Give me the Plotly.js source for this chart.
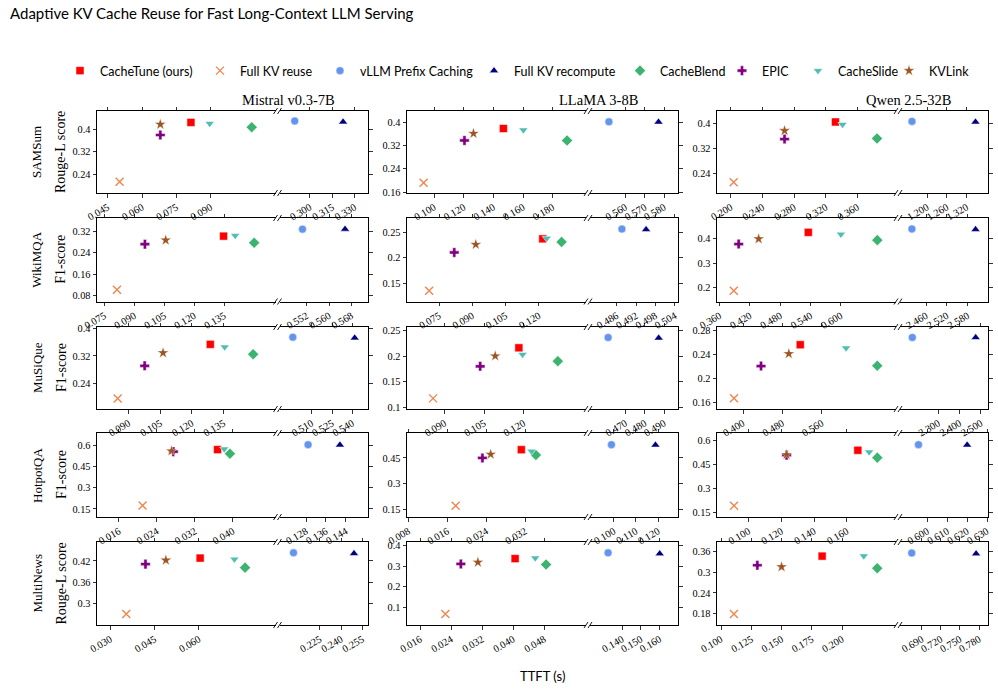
<!DOCTYPE html>
<html><head><meta charset="utf-8">
<script src="https://cdn.plot.ly/plotly-3.0.1.min.js"></script>
<style>html,body{margin:0;padding:0;background:#fff}</style>
</head><body><div id="chart" style="width:998px;height:691px"></div>
<script>
// ---- categories ----
const datasets = ["SAMSum", "WikiMQA", "MuSiQue", "HotpotQA", "MultiNews"];
const metrics = ["Rouge-L score", "F1-score", "F1-score", "F1-score", "Rouge-L score"];
const models = ["Mistral v0.3-7B", "LLaMA 3-8B", "Qwen 2.5-32B"];
const methods = ["CacheTune (ours)", "Full KV reuse", "vLLM Prefix Caching", "Full KV recompute", "CacheBlend", "EPIC", "CacheSlide", "KVLink"];

// ---- values: 15 panels, row-major (dataset rows x model columns) ----
const ttftCacheTune = [0.0814, 0.1467, 0.3322, 0.1347, 0.1217, 0.5354, 0.1287, 0.1182, 0.516, 0.0368, 0.0312, 0.1667, 0.0604, 0.0405, 0.1835];
const scoreCacheTune = [0.425, 0.378, 0.405, 0.301, 0.237, 0.426, 0.354, 0.216, 0.256, 0.572, 0.498, 0.538, 0.428, 0.337, 0.347];
const ttftFullReuse = [0.0502, 0.0928, 0.2034, 0.0813, 0.0705, 0.388, 0.0848, 0.0856, 0.3818, 0.021, 0.0177, 0.0911, 0.0354, 0.0225, 0.1107];
const scoreFullReuse = [0.212, 0.192, 0.211, 0.101, 0.136, 0.186, 0.195, 0.1175, 0.167, 0.174, 0.173, 0.192, 0.270, 0.068, 0.179];
const ttftVllm = [0.2898, 0.5514, 1.154, 0.5505, 0.4876, 2.419, 0.4961, 0.461, 2.177, 0.1288, 0.0989, 0.5955, 0.2063, 0.1326, 0.6742];
const scoreVllm = [0.430, 0.401, 0.407, 0.327, 0.256, 0.440, 0.375, 0.236, 0.268, 0.607, 0.527, 0.573, 0.443, 0.365, 0.356];
const ttftRecompute = [0.3222, 0.5771, 1.347, 0.5657, 0.4951, 2.603, 0.5417, 0.4872, 2.475, 0.1416, 0.1188, 0.620, 0.2491, 0.160, 0.7753];
const scoreRecompute = [0.427, 0.400, 0.405, 0.327, 0.255, 0.438, 0.373, 0.235, 0.268, 0.605, 0.525, 0.571, 0.441, 0.361, 0.354];
const ttftCacheBlend = [0.108, 0.1897, 0.3848, 0.150, 0.1302, 0.672, 0.149, 0.133, 0.672, 0.0394, 0.0342, 0.1786, 0.0756, 0.0485, 0.229];
const scoreCacheBlend = [0.408, 0.337, 0.352, 0.276, 0.231, 0.394, 0.325, 0.190, 0.221, 0.543, 0.467, 0.492, 0.401, 0.308, 0.312];
const ttftEpic = [0.068, 0.1204, 0.2678, 0.0953, 0.0818, 0.3976, 0.0976, 0.1035, 0.4365, 0.0275, 0.0232, 0.1232, 0.0419, 0.0265, 0.130];
const scoreEpic = [0.380, 0.337, 0.350, 0.271, 0.2105, 0.378, 0.291, 0.180, 0.2205, 0.557, 0.450, 0.508, 0.411, 0.311, 0.3205];
const ttftCacheSlide = [0.0896, 0.1602, 0.3411, 0.1405, 0.1235, 0.600, 0.1355, 0.1196, 0.6088, 0.0382, 0.0333, 0.1736, 0.0720, 0.0457, 0.2179];
const scoreCacheSlide = [0.421, 0.373, 0.397, 0.303, 0.238, 0.418, 0.346, 0.203, 0.2505, 0.576, 0.489, 0.527, 0.425, 0.340, 0.3475];
const ttftKvlink = [0.068, 0.1265, 0.2678, 0.1057, 0.0915, 0.4371, 0.1063, 0.1092, 0.4928, 0.0271, 0.0249, 0.1232, 0.0488, 0.0309, 0.150];
const scoreKvlink = [0.418, 0.361, 0.377, 0.286, 0.226, 0.399, 0.329, 0.200, 0.241, 0.562, 0.471, 0.510, 0.422, 0.319, 0.3157];

// ---- tick labels per panel ----
const yTicks = [
  [0.24,0.32,0.4],[0.16,0.24,0.32,0.4],[0.24,0.32,0.4],
  [0.08,0.16,0.24,0.32],[0.15,0.2,0.25],[0.2,0.3,0.4],
  [0.24,0.32,0.4],[0.1,0.15,0.2,0.25],[0.16,0.2,0.24,0.28],
  [0.15,0.3,0.45,0.6],[0.15,0.3,0.45],[0.15,0.3,0.45,0.6],
  [0.3,0.36,0.42],[0.1,0.2,0.3,0.4],[0.18,0.24,0.3,0.36]];
const xTicksLeft = [
  [0.045,0.060,0.075,0.090],[0.100,0.120,0.140,0.160,0.180],[0.200,0.240,0.280,0.320,0.360],
  [0.075,0.090,0.105,0.120,0.135],[0.075,0.090,0.105,0.120],[0.360,0.420,0.480,0.540,0.600],
  [0.090,0.105,0.120,0.135],[0.090,0.105,0.120],[0.400,0.480,0.560],
  [0.016,0.024,0.032,0.040],[0.008,0.016,0.024,0.032],[0.100,0.120,0.140,0.160],
  [0.030,0.045,0.060],[0.016,0.024,0.032,0.040,0.048],[0.100,0.125,0.150,0.175,0.200]];
const xTicksRight = [
  [0.300,0.315,0.330],[0.560,0.570,0.580],[1.200,1.260,1.320],
  [0.552,0.560,0.568],[0.486,0.492,0.498,0.504],[2.460,2.520,2.580],
  [0.510,0.525,0.540],[0.470,0.480,0.490],[2.300,2.400,2.500],
  [0.128,0.136,0.144],[0.100,0.110,0.120],[0.600,0.610,0.620,0.630],
  [0.225,0.240,0.255],[0.140,0.150,0.160],[0.690,0.720,0.750,0.780]];

// ---- axis ranges (layout) ----
const xRangeLeft = [[0.0403,0.1184],[0.0816,0.2025],[0.1823,0.4088],[0.0713,0.1607],[0.0605,0.1412],[0.3547,0.709],[0.075,0.1596],[0.0757,0.1437],[0.3473,0.710],[0.0114,0.049],[0.0077,0.0445],[0.0807,0.190],[0.0255,0.0859],[0.0126,0.0588],[0.0967,0.2445]];
const xRangeRight = [[0.2796,0.3389],[0.5416,0.5872],[1.1176,1.385],[0.5423,0.5739],[0.4777,0.505],[2.3845,2.639],[0.4863,0.5515],[0.4516,0.4972],[2.119,2.533],[0.1173,0.1529],[0.0892,0.129],[0.5862,0.6305],[0.1964,0.259],[0.123,0.1697],[0.6558,0.794]];
const yRange = [[0.172,0.466],[0.157,0.438],[0.176,0.4405],[0.0576,0.3685],[0.115,0.2776],[0.1417,0.485],[0.164,0.405],[0.0968,0.2565],[0.149,0.2855],[0.093,0.69],[0.107,0.595],[0.121,0.646],[0.239,0.4734],[0.0145,0.4177],[0.147,0.388]];

const seriesX = [ttftCacheTune, ttftFullReuse, ttftVllm, ttftRecompute, ttftCacheBlend, ttftEpic, ttftCacheSlide, ttftKvlink];
const seriesY = [scoreCacheTune, scoreFullReuse, scoreVllm, scoreRecompute, scoreCacheBlend, scoreEpic, scoreCacheSlide, scoreKvlink];

const styles = [
  {symbol:'square', color:'#FF0000', size:8, line:{color:'#ffffff', width:0.5}},
  {symbol:'x-thin-open', color:'#EE8650', size:8, line:{color:'#EE8650', width:1.4}},
  {symbol:'circle', color:'#6495ED', size:8, line:{color:'#ffffff', width:0.5}},
  {symbol:'triangle-up', color:'#000080', size:8, line:{color:'#ffffff', width:0.5}},
  {symbol:'diamond', color:'#3CB371', size:8.5, line:{color:'#ffffff', width:0.5}},
  {symbol:'cross', color:'#800080', size:8, line:{color:'#ffffff', width:0.5}},
  {symbol:'triangle-down', color:'#4FBDB0', size:8, line:{color:'#ffffff', width:0.5}},
  {symbol:'star', color:'#9B5523', size:8.5, line:{color:'#ffffff', width:0.4}}
];

// ---- geometry (pixels) ----
const W = 998, H = 691;
const colPx = [[97,275.5,279.5,368],[407,586,590,678],[717,896,900,988]];
const rowPx = [[111,193],[218,301.5],[327,409],[433,517],[542,625]];
const legendPx = [60, 200, 320, 474, 620, 722, 798, 889];
const px = v => v / W, py = v => 1 - v / H;

const SERIF = 'Liberation Serif, Times New Roman, serif';
const SANS = 'Lato, Open Sans, sans-serif';
const fmt3 = v => v.toFixed(3);
const fmtY = v => String(parseFloat(v.toFixed(3)));

const traces = [];
const layout = {
  width: W, height: H, margin:{l:0,r:0,t:0,b:0},
  paper_bgcolor:'#fff', plot_bgcolor:'#fff',
  title:{text:'Adaptive KV Cache Reuse for Fast Long-Context LLM Serving', x:px(10), xanchor:'left', y:py(14), yanchor:'middle', font:{family:SANS, size:15, color:'#000'}},
  showlegend:true,
  annotations:[], shapes:[]
};
methods.forEach((mname, m) => {
  layout['legend' + (m===0?'':(m+1))] = {orientation:'h', x:px(legendPx[m]), xanchor:'left', y:py(71), yanchor:'middle',
    font:{family:SANS, size:12.5, color:'#000'}, bgcolor:'rgba(0,0,0,0)', itemwidth:30, borderwidth:0};
});

const axBase = {showgrid:false, zeroline:false, showline:true, linecolor:'#000', linewidth:1,
  ticks:'outside', ticklen:3.5, tickwidth:0.8, tickcolor:'#000',
  tickfont:{family:SERIF, size:10.3, color:'#000'}};

for (let r = 0; r < 5; r++) {
  for (let c = 0; c < 3; c++) {
    const p = r*3 + c;
    const nL = 2*p + 1, nR = 2*p + 2;
    const xn = n => 'x' + (n===1?'':n), yn = n => 'y' + (n===1?'':n);
    const xk = n => 'xaxis' + (n===1?'':n), yk = n => 'yaxis' + (n===1?'':n);
    const ydom = [py(rowPx[r][1]), py(rowPx[r][0])];
    layout[xk(nL)] = Object.assign({}, axBase, {domain:[px(colPx[c][0]), px(colPx[c][1])], range:xRangeLeft[p], anchor:yn(nL),
      tickvals:xTicksLeft[p], ticktext:xTicksLeft[p].map(fmt3), tickangle:-30, mirror:'ticks'});
    layout[yk(nL)] = Object.assign({}, axBase, {domain:ydom, range:yRange[p], anchor:xn(nL),
      tickvals:yTicks[p], ticktext:yTicks[p].map(fmtY), mirror:false});
    layout[xk(nR)] = Object.assign({}, axBase, {domain:[px(colPx[c][2]), px(colPx[c][3])], range:xRangeRight[p], anchor:yn(nR),
      tickvals:xTicksRight[p], ticktext:xTicksRight[p].map(fmt3), tickangle:-30, mirror:'ticks'});
    layout[yk(nR)] = Object.assign({}, axBase, {domain:ydom, range:yRange[p], anchor:xn(nR), side:'right',
      tickvals:yTicks[p], showticklabels:false, mirror:false});

    for (let m = 0; m < methods.length; m++) {
      const xv = seriesX[m][p], yv = seriesY[m][p];
      const right = xv > xRangeLeft[p][1];
      traces.push({type:'scatter', mode:'markers', x:[xv], y:[yv],
        xaxis: xn(right?nR:nL), yaxis: yn(right?nR:nL),
        name: methods[m], legendgroup: methods[m], legend: 'legend' + (m===0?'':(m+1)), showlegend: p===0,
        marker: styles[m], cliponaxis:false, hoverinfo:'skip'});
    }

    // break marks
    [colPx[c][1], colPx[c][2]].forEach(xb => {
      rowPx[r].forEach(yb => {
        layout.shapes.push({type:'line', xref:'paper', yref:'paper',
          x0:px(xb-2), y0:py(yb+3), x1:px(xb+2), y1:py(yb-3), line:{color:'#000', width:0.9}});
      });
    });
  }
  const yc = (rowPx[r][0] + rowPx[r][1]) / 2;
  layout.annotations.push({text:datasets[r], xref:'paper', yref:'paper', x:px(37), y:py(yc), textangle:-90, showarrow:false, xanchor:'center', yanchor:'middle', font:{family:SERIF, size:13, color:'#000'}});
  layout.annotations.push({text:metrics[r], xref:'paper', yref:'paper', x:px(61), y:py(yc), textangle:-90, showarrow:false, xanchor:'center', yanchor:'middle', font:{family:SERIF, size:14, color:'#000'}});
}
const titleX = [288, 598, 908];
models.forEach((mname, c) => {
  layout.annotations.push({text:mname, xref:'paper', yref:'paper', x:px(titleX[c]), y:py(100), showarrow:false, xanchor:'center', yanchor:'middle', font:{family:SERIF, size:14.5, color:'#000'}});
});
layout.annotations.push({text:'TTFT (s)', xref:'paper', yref:'paper', x:px(542), y:py(676), showarrow:false, xanchor:'center', yanchor:'middle', font:{family:SANS, size:13, color:'#000'}});

Plotly.newPlot('chart', traces, layout, {displayModeBar:false, staticPlot:true});
</script>
</body></html>
